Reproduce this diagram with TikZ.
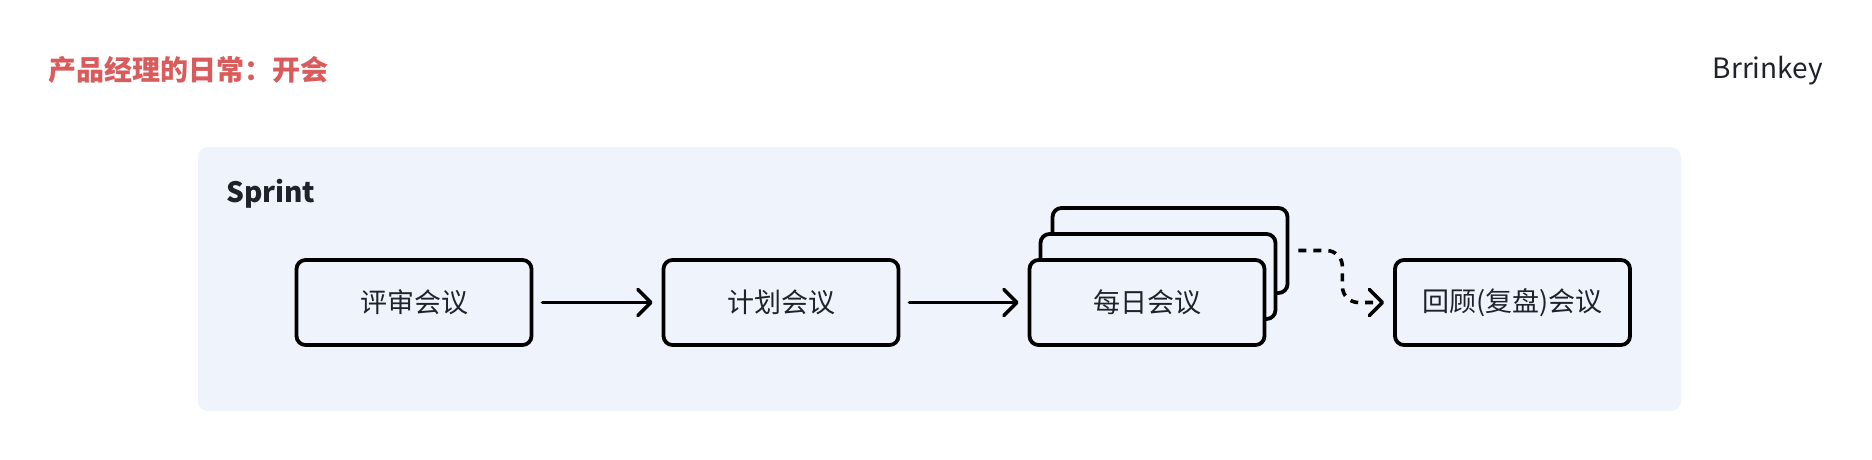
\documentclass[tikz,border=0pt]{standalone}
\usepackage{fontspec}
\setmainfont{Noto Sans CJK SC}
\usetikzlibrary{arrows.meta}
\definecolor{panelbg}{HTML}{EFF4FC}
\definecolor{ink}{HTML}{1F2329}
\definecolor{titlered}{HTML}{D95B5B}
\begin{document}
\begin{tikzpicture}[x=1pt,y=-1pt,
  mbox/.style={draw=black, line width=3.8pt, rounded corners=9pt, fill=panelbg,
    minimum width=235pt, minimum height=85pt, inner sep=0pt,
    font=\fontsize{27}{32}\selectfont, text=ink},
  conn/.style={line width=3.6pt, line cap=round,
    -{Straight Barb[length=13pt,width=26pt,line cap=round,line join=round]}},
  dconn/.style={line width=3.6pt, dash pattern=on 8pt off 7pt,
    -{Straight Barb[length=13pt,width=26pt,line cap=round,line join=round]}},
  lbl/.style={inner sep=0pt, font=\fontsize{28}{34}\selectfont, text=ink}
  ]
\useasboundingbox (0,0) rectangle (1872,460);
\fill[white] (0,0) rectangle (1872,460);
\fill[panelbg, rounded corners=10pt] (198,147) rectangle (1681,411);

\node[lbl, font=\bfseries\fontsize{28}{34}\selectfont, text=titlered, anchor=base west] (title) at (48,81) {产品经理的日常：开会};
\node[lbl, anchor=base east] (author) at (1823,79) {Brrinkey};
\node[lbl, font=\bfseries\fontsize{28}{34}\selectfont, anchor=base west] (sprint) at (226,202) {Sprint};

\node[mbox] (review) at (414,302.5) {评审会议};
\node[mbox] (plan) at (781,302.5) {计划会议};
\node[mbox] (dailyb) at (1170,250.5) {};
\node[mbox] (dailym) at (1158,276.5) {};
\node[mbox] (daily) at (1147,302.5) {每日会议};
\node[mbox] (retro) at (1512.5,302.5) {回顾(复盘)会议};

\draw[conn, shorten <=9pt, shorten >=9pt] (review) -- (plan);
\draw[conn, shorten <=9pt, shorten >=9pt] (plan) -- (daily);
\draw[dconn, rounded corners=16pt, shorten <=9pt, shorten >=9pt] (dailyb.east) -- ++(53,0) |- (retro.west);
\end{tikzpicture}
\end{document}
